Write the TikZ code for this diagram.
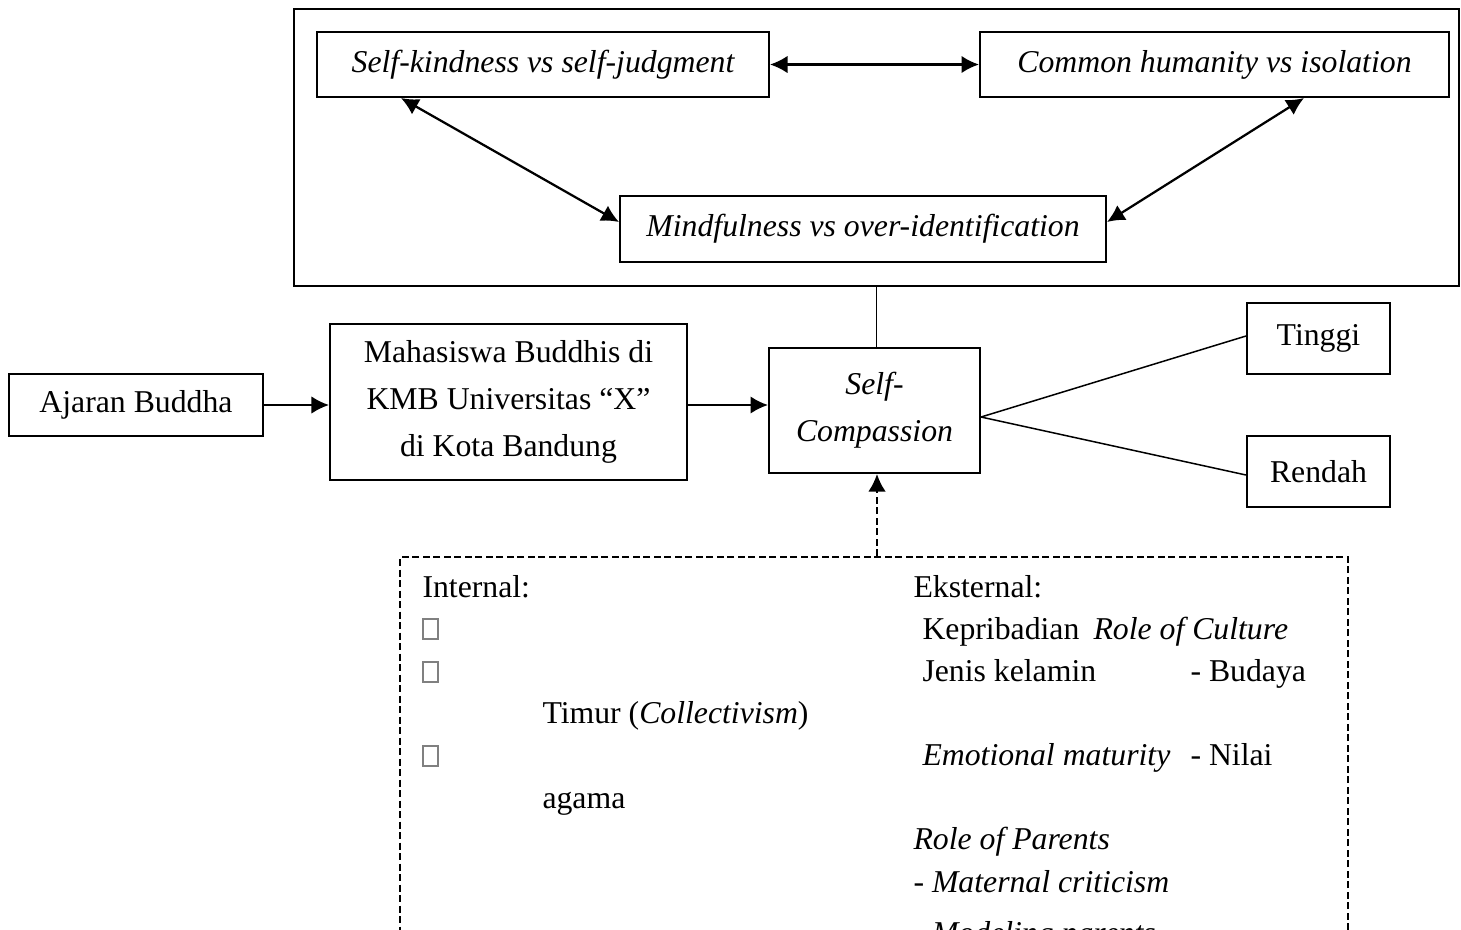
\documentclass[tikz,border=0pt]{standalone}
\usepackage{fontspec}
\setmainfont{Liberation Serif}
\usetikzlibrary{arrows.meta}

\tikzset{
  box/.style={draw, line width=0.8pt, inner sep=0pt, align=center, font=\fontsize{12.7}{18.8}\selectfont},
  dimbox/.style={box, font=\fontsize{12.7}{15}\selectfont\itshape},
  label/.style={anchor=base west, inner sep=0pt, font=\fontsize{12.7}{15}\selectfont},
  tofu/.style={draw=gray, line width=0.5pt, inner sep=0pt, minimum width=6pt, minimum height=8pt},
  arr/.style={-{Latex[length=7pt,width=7pt]}, line width=0.9pt},
  dbl/.style={{Latex[length=7pt,width=7pt]}-{Latex[length=7pt,width=7pt]}, line width=0.9pt},
  thinline/.style={line width=0.6pt},
  dashline/.style={line width=0.8pt, dash pattern=on 2.8pt off 1.4pt}
}

\begin{document}
\begin{tikzpicture}[x=0.4pt, y=-0.4pt]
\clip (0,0) rectangle (1461,929); % page

% self-compassion components
\node[box, minimum width=466pt, minimum height=110.8pt] (frame) at (876.5,147.5) {}; % outer frame
\node[dimbox, minimum width=180.8pt, minimum height=26pt] (sk) at (543,64.5) {Self-kindness vs self-judgment};
\node[dimbox, minimum width=187.6pt, minimum height=26pt] (ch) at (1214.5,64.5) {Common humanity vs isolation};
\node[dimbox, minimum width=194.4pt, minimum height=26.4pt] (mind) at (863,229) {Mindfulness vs over-identification};

\draw[dbl] (sk.east) -- (ch.west); % kindness <-> humanity
\draw[dbl] ([xshift=34pt]sk.south west) -- ([yshift=2.8pt]mind.west); % kindness <-> mindfulness
\draw[dbl] ([xshift=-58.4pt]ch.south east) -- ([yshift=2.8pt]mind.east); % humanity <-> mindfulness

% main row
\node[box, minimum width=101.6pt, minimum height=24.8pt] (aj) at (136,405) {Ajaran Buddha};
\node[box, minimum width=142.8pt, minimum height=62.4pt] (mh) at (508.5,402) {Mahasiswa Buddhis di\\KMB Universitas ``X''\\di Kota Bandung};
\node[box, minimum width=84.4pt, minimum height=50pt] (sc) at (874.5,410.5) {\itshape Self-\\\itshape Compassion};
\node[box, minimum width=57.2pt, minimum height=28.4pt] (ti) at (1318.5,338.5) {Tinggi};
\node[box, minimum width=57.2pt, minimum height=28.4pt] (re) at (1318.5,471.5) {Rendah};

\draw[thinline] (frame.south) -- (frame.south |- sc.north); % frame to self-compassion
\draw[arr] (aj.east) -- (aj.east -| mh.west); % ajaran -> mahasiswa
\draw[arr] (mh.east |- aj.east) -- (aj.east -| sc.west); % mahasiswa -> self-compassion
\draw[thinline] ([yshift=-2.6pt]sc.east) -- ([yshift=1pt]ti.west); % high
\draw[thinline] ([yshift=-2.6pt]sc.east) -- ([yshift=-1.4pt]re.west); % low

% factors
\node[draw, dashline, minimum width=379.2pt, minimum height=173.2pt, inner sep=0pt] (fac) at (874,773.5) {};
\draw[dashline, -{Latex[length=7pt,width=7pt]}] (fac.north -| 877,0) -- (sc.south -| 877,0); % factors -> self-compassion

\node[label] (int) at (422,597) {Internal:};
\node[tofu] (tf1) at (430.5,629) {};
\node[tofu] (tf2) at (430.5,672) {};
\node[label] (tim) at (542,723) {Timur (\textit{Collectivism})};
\node[tofu] (tf3) at (430.5,756) {};
\node[label] (aga) at (542,808) {agama};

\node[label] (ext) at (913,597) {Eksternal:};
\node[label] (kep) at (922,639) {Kepribadian};
\node[label] (roc) at (1093,639) {\textit{Role of Culture}};
\node[label] (jen) at (922,681) {Jenis kelamin};
\node[label] (bud) at (1190,681) {- Budaya};
\node[label] (emo) at (922,765) {\textit{Emotional maturity}};
\node[label] (nil) at (1190,765) {- Nilai};
\node[label] (rop) at (913,849) {\textit{Role of Parents}};
\node[label] (mat) at (913,892) {\textit{- Maternal criticism}};
\node[label] (mod) at (913,943) {\textit{- Modeling parents}};

\end{tikzpicture}
\end{document}
